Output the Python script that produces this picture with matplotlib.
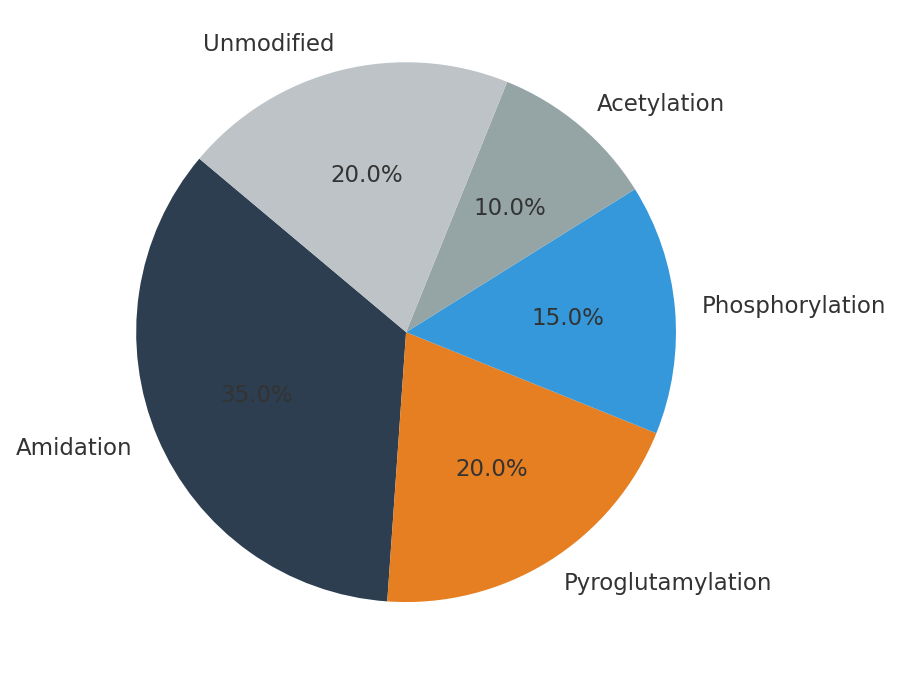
import matplotlib
matplotlib.use("Agg")
import matplotlib.pyplot as plt

categories = ["Amidation", "Pyroglutamylation", "Phosphorylation", "Acetylation", "Unmodified"]
values = [35, 20, 15, 10, 20]
colors = ["#2c3e50", "#e67e22", "#3498db", "#95a5a6", "#bdc3c7"]

fig = plt.figure(figsize=(9.05, 6.85), dpi=100)
ax = fig.add_axes([0.0757, 0.0226, 0.746, 0.985])
wedges, texts, autotexts = ax.pie(values, labels=categories, colors=colors, startangle=140,
                                  autopct="%1.1f%%", pctdistance=0.6, labeldistance=1.1,
                                  textprops={"fontsize": 16.5, "color": "#333333"})
ax.set_aspect("equal")
fig.savefig("out.png", dpi=100)
